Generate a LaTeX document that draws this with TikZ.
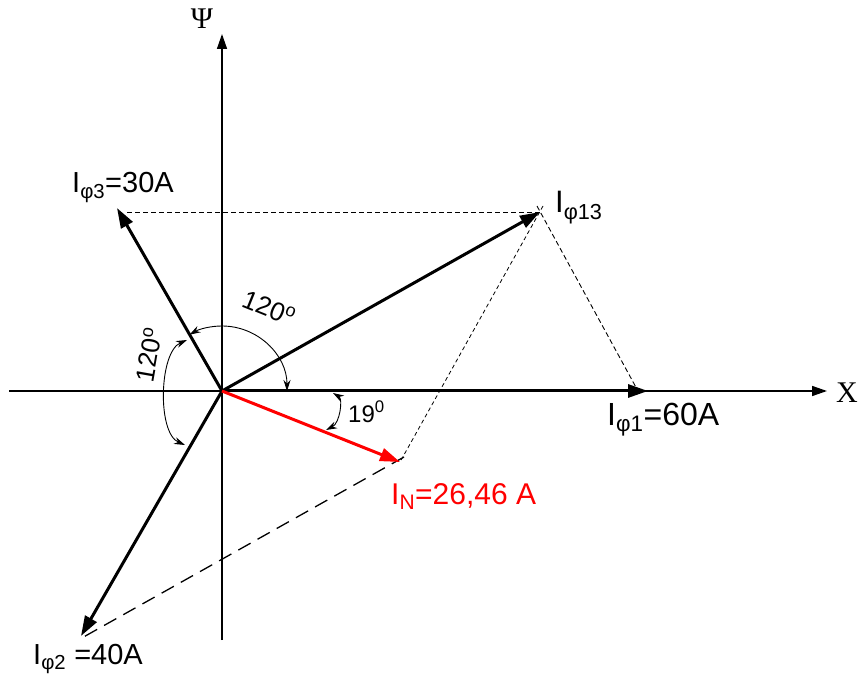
\documentclass[tikz,border=0pt]{standalone}
\usepackage{fontspec}
\setmainfont{Liberation Sans}
\newfontfamily\seriffont{Liberation Serif}
\usetikzlibrary{arrows.meta}
\definecolor{vred}{RGB}{255,0,0}
\newcommand\subtxt[1]{\raisebox{-0.22em}{\fontsize{0.68\dimexpr\fontdimen6\font\relax}{1em}\selectfont #1}}
\begin{document}
\begin{tikzpicture}[x=1pt,y=1pt,
  vec/.style={line width=3pt,-{Triangle[length=20pt,width=13pt]}},
  axisline/.style={line width=1.5pt,-{Triangle[length=15pt,width=10pt]}},
  anglearc/.style={line width=0.9pt,{Stealth[length=11pt,width=7pt]}-{Stealth[length=11pt,width=7pt]}},
  fine/.style={line width=0.9pt,dash pattern=on 5pt off 3pt},
  finer/.style={line width=0.8pt,dash pattern=on 4pt off 3pt},
  longdash/.style={line width=1.3pt,dash pattern=on 14pt off 8pt},
  lbl/.style={inner sep=0pt,anchor=base west},
  fs/.style={font=\fontsize{#1}{#1}\selectfont}]
\useasboundingbox (0,-684) rectangle (862,0);
% key points
\coordinate (O) at (222,-391);
\coordinate (P1) at (648,-391);
\coordinate (P3) at (117,-208);
\coordinate (P13) at (540,-212);
\coordinate (P2) at (81,-636);
\coordinate (PN) at (400,-462);
\coordinate (XL) at (9,-391);
\coordinate (XR) at (827,-391);
\coordinate (YB) at (222,-640);
\coordinate (YT) at (222,-34);
\coordinate (H0) at (127,-212);
\coordinate (Q1a) at (537,-206);
\coordinate (Q1b) at (638,-391);
\coordinate (QNa) at (543,-206);
\coordinate (QLa) at (404,-457);
\coordinate (QLb) at (80,-639);
% axes
\draw[axisline] (XL) -- (XR);
\draw[axisline] (YB) -- (YT);
% dashed construction lines
\draw[fine] (H0) -- (P13);
\draw[fine] (Q1a) -- (Q1b);
\draw[finer] (QNa) -- (PN);
\draw[longdash] (QLa) -- (QLb);
% vectors
\draw[vec] (O) -- (P1);
\draw[vec] (O) -- (P3);
\draw[vec] (O) -- (P2);
\draw[vec] (O) -- (P13);
\draw[vec,vred] (O) -- (PN);
% angle arcs
\coordinate (A0) at (287,-391);
\draw[anglearc] (A0) arc[start angle=0,end angle=120,radius=65pt];
\coordinate (B1) at (187,-340);
\coordinate (B2) at (185,-445);
\draw[anglearc] (B1) .. controls (159,-352) and (157,-433) .. (B2);
\coordinate (C1) at (333,-393);
\coordinate (C2) at (326,-430);
\draw[anglearc] (C1) .. controls (343,-399) and (340,-423) .. (C2);
% labels
\node[inner sep=0pt,font=\seriffont\fontsize{30}{30}\selectfont] (psi) at (202,-19) {Ψ};
\node[inner sep=0pt,font=\seriffont\fontsize{30}{30}\selectfont] (xl) at (847,-393) {X};
\node[lbl,fs=32] (l1) at (607,-425) {I\textsubscript{φ1}=60A};
\node[lbl,fs=29] (l3) at (72,-193) {I\textsubscript{φ3}=30A};
\node[lbl,fs=31] (l13) at (555,-213) {I\textsubscript{φ13}};
\node[lbl,fs=29] (l2) at (33,-664) {I\textsubscript{φ2} =40A};
\node[lbl,fs=30,text=vred] (lN) at (391,-504) {I\textsubscript{N}=26,46 A};
\node[lbl,fs=24] (l19) at (348,-422) {19\textsuperscript{0}};
\node[inner sep=0pt,fs=26,rotate=-22] (a1) at (269,-308) {120\textsuperscript{o}};
\node[inner sep=0pt,fs=26,rotate=80] (a2) at (149,-355) {120\textsuperscript{o}};
\end{tikzpicture}
\end{document}
